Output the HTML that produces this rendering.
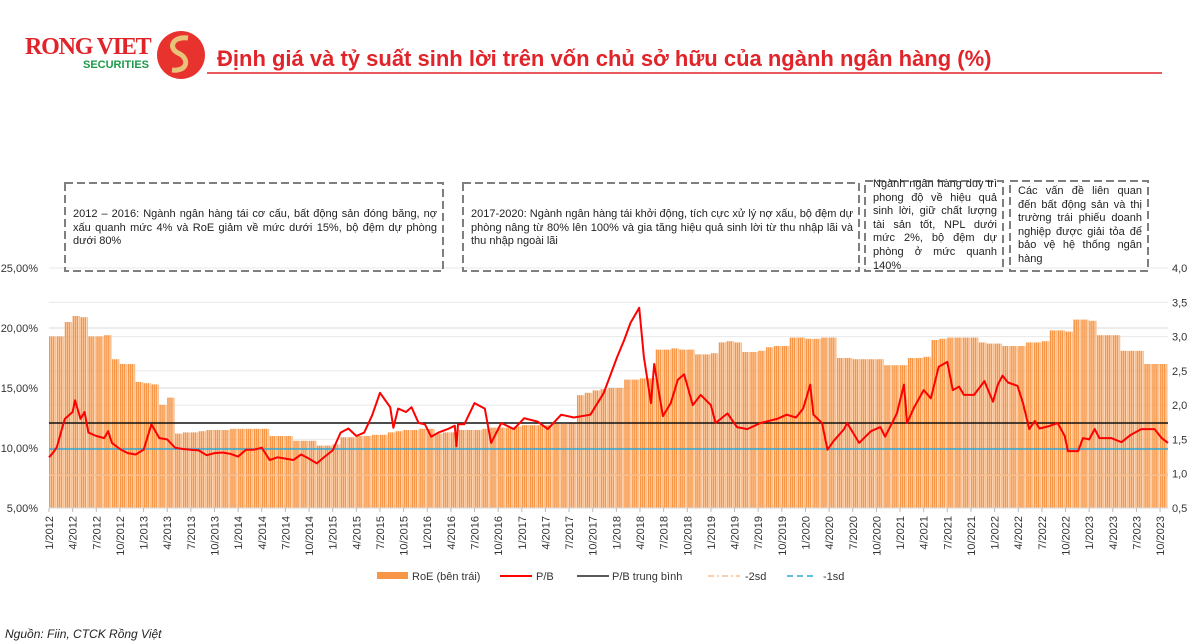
<!DOCTYPE html>
<html><head><meta charset="utf-8">
<style>
body{margin:0;width:1200px;height:642px;background:#fff;overflow:hidden;font-family:"Liberation Sans","DejaVu Sans",sans-serif;}
.note{position:absolute;font-size:11px;line-height:13.6px;color:#222;text-align:justify;font-family:"Liberation Sans","DejaVu Sans",sans-serif;}
</style></head>
<body>
<svg id="chart" width="1200" height="642" xmlns="http://www.w3.org/2000/svg" style="position:absolute;left:0;top:0;font-family:'Liberation Sans','DejaVu Sans',sans-serif">
  <g>
    <text x="25" y="54" style="font-family:'Liberation Serif',serif" font-weight="bold" font-size="24" fill="#e0242a" letter-spacing="-1.2">RONG VIET</text>
    <text x="83" y="68" font-weight="bold" font-size="11" fill="#1a9a49">SECURITIES</text>
    <circle cx="181" cy="55" r="24" fill="#e8322e"/>
    <path d="M188 38 C172 36 168 48 178 53 C190 58 188 72 172 70" stroke="#e9c27a" stroke-width="5" fill="none"/>
  </g>
  <text x="217" y="66" font-weight="bold" font-size="22" fill="#e0242a">Định giá và tỷ suất sinh lời trên vốn chủ sở hữu của ngành ngân hàng (%)</text>
  <line x1="207" y1="73" x2="1162" y2="73" stroke="#e0242a" stroke-width="1.5"/>
  <g id="grid"></g>
  <g id="bars"></g>
  <g id="refs"></g>
  <g id="line"></g>
  <g id="axes"></g>
  <g fill="none" stroke="#7f7f7f" stroke-width="2" stroke-dasharray="8 4">
    <rect x="65" y="183" width="378" height="88"/>
    <rect x="463" y="183" width="396" height="88"/>
    <rect x="865" y="181" width="138" height="90"/>
    <rect x="1010" y="181" width="138" height="90"/>
  </g>
  <g id="legend" font-size="11" fill="#333">
    <rect x="377" y="572" width="31" height="7" fill="#f79646"/>
    <text x="412" y="580">RoE (bên trái)</text>
    <line x1="500" y1="576" x2="532" y2="576" stroke="#ff0000" stroke-width="2"/>
    <text x="536" y="580">P/B</text>
    <line x1="577" y1="576" x2="609" y2="576" stroke="#222" stroke-width="1.5"/>
    <text x="612" y="580">P/B trung bình</text>
    <line x1="708" y1="576" x2="740" y2="576" stroke="#fac090" stroke-width="1.5" stroke-dasharray="6 3 2 3"/>
    <text x="745" y="580">-2sd</text>
    <line x1="787" y1="576" x2="815" y2="576" stroke="#31a9d6" stroke-width="1.5" stroke-dasharray="6 4"/>
    <text x="823" y="580">-1sd</text>
  </g>
  <text x="5" y="638" font-style="italic" font-size="12" fill="#222">Nguồn: Fiin, CTCK Rồng Việt</text>
</svg>
<div class="note" style="left:73px;top:208px;width:364px;">2012 – 2016: Ngành ngân hàng tái cơ cấu, bất động sản đóng băng, nợ xấu quanh mức 4% và RoE giảm về mức dưới 15%, bộ đệm dự phòng dưới 80%</div>
<div class="note" style="left:471px;top:208px;width:382px;">2017-2020: Ngành ngân hàng tái khởi động, tích cực xử lý nợ xấu, bộ đệm dự phòng nâng từ 80% lên 100% và gia tăng hiệu quả sinh lời từ thu nhập lãi và thu nhập ngoài lãi</div>
<div class="note" style="left:873px;top:178px;width:124px;">Ngành ngân hàng duy trì phong độ về hiệu quả sinh lời, giữ chất lượng tài sản tốt, NPL dưới mức 2%, bộ đệm dự phòng ở mức quanh 140%</div>
<div class="note" style="left:1018px;top:185px;width:124px;">Các vấn đề liên quan đến bất động sản và thị trường trái phiếu doanh nghiệp được giải tỏa để bảo vệ hệ thống ngân hàng</div>
<script>
const roe = [19.3,19.3,20.5,21.0,20.9,19.3,19.3,19.4,17.4,17.0,17.0,15.5,15.4,15.3,13.6,14.2,11.2,11.3,11.3,11.4,11.5,11.5,11.5,11.6,11.6,11.6,11.6,11.6,11.0,11.0,11.0,10.6,10.6,10.6,10.2,10.2,10.3,10.9,10.9,11.0,11.0,11.1,11.1,11.3,11.4,11.5,11.5,11.6,11.6,11.2,11.3,11.3,11.5,11.5,11.5,11.6,11.7,11.7,11.7,11.8,11.9,11.9,11.9,11.9,12.0,12.0,12.1,14.4,14.6,14.8,14.9,15.0,15.0,15.7,15.7,15.8,15.8,18.2,18.2,18.3,18.2,18.2,17.8,17.8,17.9,18.8,18.9,18.8,18.0,18.0,18.1,18.4,18.5,18.5,19.2,19.2,19.1,19.1,19.2,19.2,17.5,17.5,17.4,17.4,17.4,17.4,16.9,16.9,16.9,17.5,17.5,17.6,19.0,19.1,19.2,19.2,19.2,19.2,18.8,18.7,18.7,18.5,18.5,18.5,18.8,18.8,18.9,19.8,19.8,19.7,20.7,20.7,20.6,19.4,19.4,19.4,18.1,18.1,18.1,17.0,17.0,17.0];
const pbT = [0,0.5,1,2,3,3.3,4,4.5,5,6,7,7.5,8,9,10,11,12,13,14,15,16,17,18,19,20,21,22,23,24,25,26,27,28,29,30,31,32,33,34,35,36,37,38,39,40,41,42,43.3,43.7,44.3,45.3,46,46.9,47.7,48.5,49.4,50.6,51.5,51.7,51.9,52.7,54,55.3,56.1,57.4,59,60.3,62,63.3,65,66.6,68.7,70.4,72.1,73,73.8,74.9,75.5,76.4,76.8,77.9,78.9,79.8,80.6,81.7,82.7,84,84.6,86.1,87.3,88.6,90.3,92.4,93.6,94.8,95.7,96.6,97,98.1,98.8,99.6,100.9,101.3,102.8,104.3,105.5,106.1,107.6,108.5,108.9,109.8,111,111.9,112.9,114,114.7,115.5,116.1,117.4,118.7,119.8,120.4,121,121.7,122.9,123.6,124.4,125.1,125.7,126.8,128,128.9,129.3,130.6,131.2,132,132.7,133.3,134.8,136.1,137.2,138.6,140.3,141.2,142];
const pbV = [1.24,1.3,1.39,1.8,1.9,2.07,1.8,1.9,1.6,1.55,1.52,1.62,1.45,1.36,1.3,1.28,1.35,1.72,1.52,1.5,1.38,1.36,1.35,1.34,1.27,1.3,1.31,1.29,1.25,1.35,1.35,1.38,1.2,1.24,1.22,1.2,1.28,1.22,1.15,1.25,1.34,1.6,1.66,1.55,1.6,1.85,2.18,1.97,1.67,1.95,1.9,1.97,1.74,1.72,1.54,1.6,1.65,1.7,1.4,1.72,1.72,2.03,1.95,1.45,1.74,1.65,1.81,1.76,1.65,1.86,1.82,1.86,2.18,2.7,2.95,3.2,3.42,2.7,2.03,2.6,1.84,2.03,2.37,2.45,2.0,2.15,2.0,1.74,1.88,1.68,1.65,1.74,1.8,1.86,1.82,1.95,2.3,1.86,1.74,1.35,1.48,1.65,1.74,1.45,1.62,1.68,1.54,1.88,2.3,1.74,1.97,2.22,2.1,2.56,2.63,2.22,2.27,2.15,2.15,2.35,2.05,2.3,2.43,2.33,2.28,2.03,1.65,1.77,1.66,1.69,1.74,1.55,1.33,1.33,1.52,1.5,1.65,1.52,1.52,1.46,1.56,1.65,1.65,1.52,1.45];
const pbMean = 1.74, pbMinus1 = 1.36, pbMinus2 = 0.98;
const leftTicks = ["5,00%","10,00%","15,00%","20,00%","25,00%"];
const leftTickVals = [5,10,15,20,25];
const rightTicks = ["0,5","1,0","1,5","2,0","2,5","3,0","3,5","4,0"];
const rightTickVals = [0.5,1,1.5,2,2.5,3,3.5,4];
const xTickLabels = [];
for (let y=2012;y<=2023;y++) for (const m of [1,4,7,10]) xTickLabels.push(m+"/"+y);

const NS="http://www.w3.org/2000/svg";
const X0=49, MW=7.88, YB=508, YT=268;
const xm = m => X0 + m*MW;
const yl = v => YB - (v-5)/20*(YB-YT);
const yr = v => YB - (v-0.5)/3.5*(YB-YT);
function mk(tag, attrs, parent){const e=document.createElementNS(NS,tag);for(const k in attrs)e.setAttribute(k,attrs[k]);parent.appendChild(e);return e;}
const grid=document.getElementById('grid'), bars=document.getElementById('bars'), refs=document.getElementById('refs'), line=document.getElementById('line'), axes=document.getElementById('axes');

leftTickVals.forEach((v,i)=>{
  const g=mk('line',{x1:X0,x2:1168,y1:yl(v),y2:yl(v),stroke:'#d9d9d9','stroke-width':1},grid);
  
  
  const t=mk('text',{x:38,y:yl(v)+4,'text-anchor':'end','font-size':11,fill:'#333'},axes);
  t.textContent=leftTicks[i];
  
  
});
rightTickVals.forEach((v,i)=>{
  const g=mk('line',{x1:X0,x2:1168,y1:yr(v),y2:yr(v),stroke:'#e8e8e8','stroke-width':1},grid);
  
  
  const t=mk('text',{x:1172,y:yr(v)+4,'font-size':11,fill:'#333'},axes);
  t.textContent=rightTicks[i];
  
  
});
roe.forEach((v,i)=>{
  for(let k=0;k<4;k++){
    const b=mk('rect',{x:xm(i+k/4),y:yl(v),width:1.55,height:YB-yl(v),fill:(k==3?'#fbbf8c':'#f79646')},bars);
    
    
  }
});
[[pbMinus1,'#31a9d6','minus-1sd-line'],[pbMinus2,'#fac090','minus-2sd-line'],[pbMean,'#111','pb-mean-line']].forEach(([v,c,n])=>{
  const l=mk('line',{x1:X0,x2:1168,y1:yr(v),y2:yr(v),stroke:c,'stroke-width':1.5},refs);
  
  
});
const p=mk('polyline',{points:pbT.map((t,i)=>xm(t).toFixed(1)+','+yr(pbV[i]).toFixed(1)).join(' '),fill:'none',stroke:'#ff0000','stroke-width':2,'stroke-linejoin':'round'},line);


const ax=mk('line',{x1:X0,x2:1168,y1:YB,y2:YB,stroke:'#d9d9d9'},axes);


xTickLabels.forEach((s,i)=>{
  const x=xm(i*3);
  const tk=mk('line',{x1:x,x2:x,y1:YB,y2:YB+4,stroke:'#bbb'},axes);
  
  
  const t=mk('text',{x:0,y:0,'text-anchor':'end','font-size':11,fill:'#333',transform:`translate(${x+4},${YB+8}) rotate(-90)`},axes);
  t.textContent=s;
  
  
});
</script>
</body></html>
